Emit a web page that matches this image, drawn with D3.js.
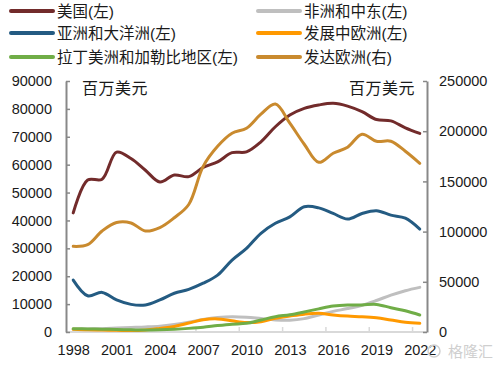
<!DOCTYPE html>
<html><head><meta charset="utf-8">
<script src="https://cdn.jsdelivr.net/npm/d3@7/dist/d3.min.js"></script>
<style>
body{margin:0;background:#fff;}
svg{display:block;font-family:"Liberation Sans","Noto Sans CJK SC",sans-serif;}
</style></head>
<body>
<script>
const years = d3.range(1998, 2023);
const xTickYears = [1998, 2001, 2004, 2007, 2010, 2013, 2016, 2019, 2022];
const leftTicks = [0, 10000, 20000, 30000, 40000, 50000, 60000, 70000, 80000, 90000];
const rightTicks = [0, 50000, 100000, 150000, 200000, 250000];

const usa      = [42700, 54500, 54800, 64500, 62200, 58000, 53800, 56300, 55700, 59000, 61000, 64300, 64600, 68200, 73600, 77800, 80200, 81400, 82000, 81000, 79000, 76200, 75700, 73200, 71200];
const africaME = [1000, 1100, 1200, 1400, 1600, 1800, 2100, 2700, 3500, 4500, 5200, 5500, 5300, 4800, 4300, 4200, 4800, 6100, 7400, 8400, 9600, 11300, 13200, 14800, 16000];
const asiaPac  = [18600, 13000, 14200, 11500, 9900, 9700, 11500, 13900, 15300, 17500, 20400, 25800, 30000, 35400, 39000, 41300, 44900, 44500, 42500, 40500, 42500, 43500, 41900, 40800, 36900];
const devingEu = [1000, 800, 700, 600, 500, 700, 1300, 2000, 3200, 4400, 4700, 4000, 3400, 3700, 4900, 5700, 6400, 6700, 6100, 5700, 5500, 5100, 4300, 3500, 3100];
const latAm    = [1200, 1100, 1000, 900, 800, 700, 800, 1000, 1300, 1700, 2300, 2800, 3100, 4300, 5500, 6200, 7200, 8300, 9300, 9700, 9700, 9900, 8700, 7600, 6100];
const devedEu  = [85300, 87000, 100600, 109000, 108600, 100600, 104000, 113800, 127000, 165000, 185000, 198000, 203000, 217000, 227000, 208000, 187000, 169000, 178000, 184000, 197000, 190000, 190000, 180000, 168000];

const seriesNames = ["美国(左)", "非洲和中东(左)", "亚洲和大洋洲(左)", "发展中欧洲(左)", "拉丁美洲和加勒比地区(左)", "发达欧洲(右)"];
const seriesData = [usa, africaME, asiaPac, devingEu, latAm, devedEu];
const seriesAxis = ["L", "L", "L", "L", "L", "R"];
const colors = ["#722b2b", "#bfbfbf", "#245b82", "#ff9900", "#70ad47", "#c98a2e"];

const W = 495, H = 366;
const svg = d3.select("body").append("svg").attr("width", W).attr("height", H);

const x = d3.scaleBand().domain(years).range([66, 427]).padding(0);
const cx = d => x(d) + x.bandwidth() / 2;
const yL = d3.scaleLinear().domain([0, 90000]).range([332, 81]);
const yR = d3.scaleLinear().domain([0, 250000]).range([332, 81]);

// x axis line
svg.append("line").attr("x1", 66).attr("x2", 427).attr("y1", 332).attr("y2", 332)
  .attr("stroke", "#d9d9d9").attr("stroke-width", 2);
// x tick marks at category boundaries
svg.append("g").selectAll("line").data(xTickYears.slice(1)).join("line")
  .attr("x1", d => x(d)).attr("x2", d => x(d)).attr("y1", 332).attr("y2", 327)
  .attr("stroke", "#d9d9d9").attr("stroke-width", 1.5);

// x labels via axis
const gx = svg.append("g").attr("transform", "translate(0,332)")
  .call(d3.axisBottom(d3.scalePoint().domain(years).range([cx(1998), cx(2022)]))
    .tickValues(xTickYears).tickSize(0).tickPadding(13));
gx.select(".domain").remove();
gx.selectAll("text").attr("font-size", "14.5px").attr("fill", "#1a1a1a")
  .attr("font-family", "Liberation Sans, Arial, sans-serif");

// left axis
const gl = svg.append("g").attr("transform", "translate(66,0)")
  .call(d3.axisLeft(yL).tickValues(leftTicks).tickSize(-4).tickSizeOuter(0).tickPadding(14).tickFormat(d3.format("d")));
gl.select(".domain").attr("stroke", "#888").attr("stroke-width", 2);
gl.selectAll(".tick line").attr("stroke", "#888").attr("stroke-width", 1.5);
gl.selectAll("text").attr("font-size", "14.5px").attr("fill", "#1a1a1a")
  .attr("font-family", "Liberation Sans, Arial, sans-serif");

// right axis
const gr = svg.append("g").attr("transform", "translate(427,0)")
  .call(d3.axisRight(yR).tickValues(rightTicks).tickSize(-4).tickSizeOuter(0).tickPadding(12).tickFormat(d3.format("d")));
gr.select(".domain").attr("stroke", "#888").attr("stroke-width", 2);
gr.selectAll(".tick line").attr("stroke", "#888").attr("stroke-width", 1.5);
gr.selectAll("text").attr("font-size", "14.5px").attr("fill", "#1a1a1a")
  .attr("font-family", "Liberation Sans, Arial, sans-serif");

// unit labels
svg.append("text").attr("x", 82).attr("y", 94).attr("font-size", "16px").attr("fill", "#1a1a1a")
  .attr("letter-spacing", "0.5px").text("百万美元");
svg.append("text").attr("x", 415).attr("y", 94).attr("text-anchor", "end").attr("font-size", "16px").attr("fill", "#1a1a1a")
  .attr("letter-spacing", "0.5px").text("百万美元");

// lines
const plot = svg.append("g");
seriesData.forEach((data, i) => {
  const ys = seriesAxis[i] === "L" ? yL : yR;
  const line = d3.line().x((d, j) => cx(years[j])).y(d => ys(d)).curve(d3.curveCatmullRom.alpha(0.5));
  plot.append("path").datum(data).attr("d", line).attr("fill", "none")
    .attr("stroke", colors[i]).attr("stroke-width", 3).attr("stroke-linejoin", "round").attr("stroke-linecap", "round");
});

// legend
const legPos = [[11, 11], [258, 11], [11, 33], [258, 33], [11, 57], [258, 57]];
const leg = svg.append("g");
seriesNames.forEach((n, i) => {
  const [lx, ly] = legPos[i];
  leg.append("line").attr("x1", lx).attr("x2", lx + 42).attr("y1", ly).attr("y2", ly)
    .attr("stroke", colors[i]).attr("stroke-width", 4).attr("stroke-linecap", "round");
  leg.append("text").attr("x", lx + 46).attr("y", ly + 5.5).attr("font-size", "15.5px").attr("fill", "#1a1a1a").text(n);
});

// watermark
svg.append("text").attr("x", 493).attr("y", 357).attr("text-anchor", "end")
  .attr("font-size", "15px").attr("fill", "#cfcfcf").attr("stroke", "#fff").attr("stroke-width", 3)
  .attr("paint-order", "stroke").text("格隆汇");
svg.append("circle").attr("cx", 434).attr("cy", 351).attr("r", 6).attr("fill", "none")
  .attr("stroke", "#d0d0d0").attr("stroke-width", 1.5);
</script>
</body></html>
